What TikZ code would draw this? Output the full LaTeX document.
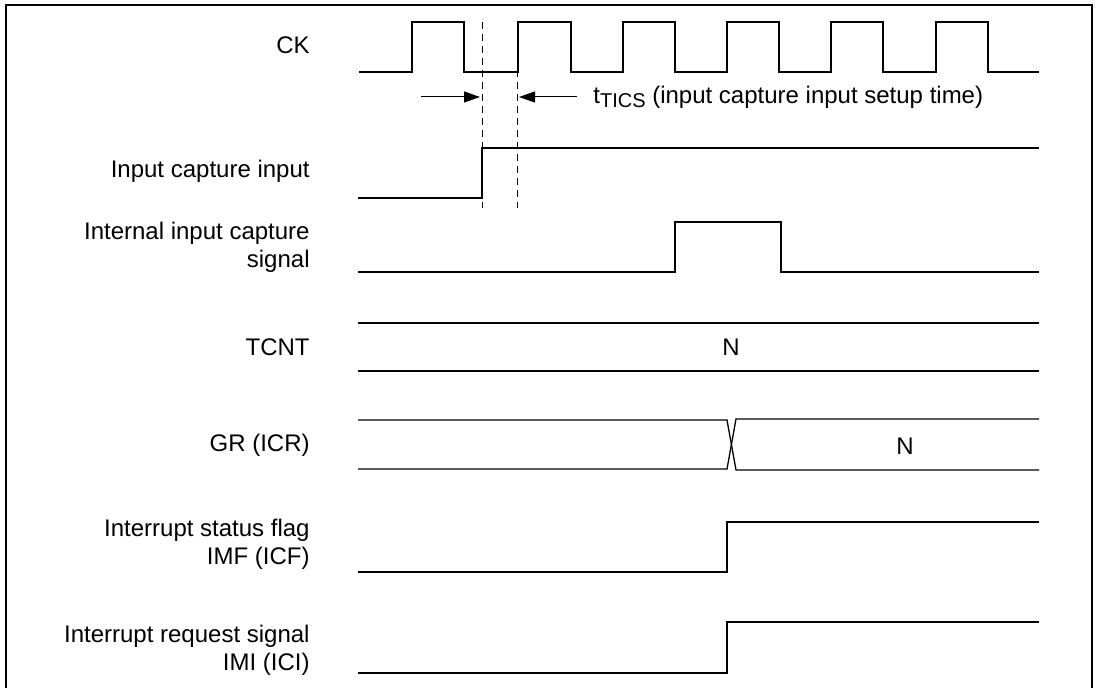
\documentclass[tikz,border=0pt]{standalone}
\usepackage{fontspec}
\setmainfont{Liberation Sans}
\usetikzlibrary{arrows.meta}
\begin{document}
\begin{tikzpicture}[x=0.5pt,y=-0.5pt,
    sig/.style={line width=0.65pt},
    lbl/.style={anchor=east,align=right,inner sep=0pt,font=\fontsize{12}{14}\selectfont},
    val/.style={inner sep=0pt,font=\fontsize{12}{14}\selectfont},
    guide/.style={line width=0.5pt,dash pattern=on 3.5pt off 2.5pt},
    dimarrow/.style={line width=0.5pt,-{Triangle[length=8pt,width=5.5pt]}}]
        \useasboundingbox (0,0) rectangle (1100,688);
        \draw[line width=0.7pt] (6,688) -- (6,5) -- (1092,5) -- (1092,688);
        % signal names
        \node[lbl] (ck) at (310,45) {CK};
        \node[lbl] (icin) at (310,171) {Input capture input};
        \node[lbl] (icsig) at (310,247) {Internal input capture\\signal};
        \node[lbl] (tcnt) at (310,347) {TCNT};
        \node[lbl] (gr) at (310,445) {GR (ICR)};
        \node[lbl] (imf) at (310,544) {Interrupt status flag\\IMF (ICF)};
        \node[lbl] (imi) at (310,650) {Interrupt request signal\\IMI (ICI)};
        % clock
        \draw[sig] (359,72) -- (412,72) -- (412,22) -- (464,22) -- (464,72) -- (518,72) -- (518,22)
            -- (571,22) -- (571,72) -- (623,72) -- (623,22) -- (675,22) -- (675,72) -- (727,72)
            -- (727,22) -- (779,22) -- (779,72) -- (831,72) -- (831,22) -- (883,22) -- (883,72)
            -- (936,72) -- (936,22) -- (988,22) -- (988,72) -- (1039,72);
        % setup time
        \coordinate (d1top) at (482,22);
        \coordinate (d1bot) at (482,208);
        \coordinate (d2top) at (517,22);
        \coordinate (d2bot) at (517,208);
        \draw[guide] (d1top) -- (d1bot);
        \draw[guide] (d2top) -- (d2bot);
        \coordinate (a1) at (421,97);
        \coordinate (a2) at (577,97);
        \draw[dimarrow] (a1) -- ([xshift=-1pt]a1 -| d1top);
        \draw[dimarrow] (a2) -- ([xshift=1pt]a2 -| d2top);
        \node[val,anchor=west] (tics) at (593,97) {t\raisebox{-0.35ex}{\fontsize{10}{12}\selectfont TICS} (input capture input setup time)};
        % input capture input
        \draw[sig] (358,198) -- (482,198) -- (482,148) -- (1039,148);
        % internal input capture signal
        \draw[sig] (358,272) -- (675,272) -- (675,222) -- (781,222) -- (781,272) -- (1039,272);
        % TCNT
        \draw[sig] (358,323) -- (1039,323);
        \draw[sig] (358,371) -- (1039,371);
        \node[val] (tcntn) at (731,347) {N};
        % GR (ICR)
        \draw[sig] (358,420) -- (727,420) -- (736,470) -- (1039,470);
        \draw[sig] (358,469) -- (727,469) -- (736,419) -- (1039,419);
        \node[val] (grn) at (905,446) {N};
        % IMF (ICF)
        \draw[sig] (358,572) -- (727,572) -- (727,522) -- (1039,522);
        % IMI (ICI)
        \draw[sig] (358,673) -- (727,673) -- (727,622) -- (1039,622);
    \end{tikzpicture}
\end{document}
